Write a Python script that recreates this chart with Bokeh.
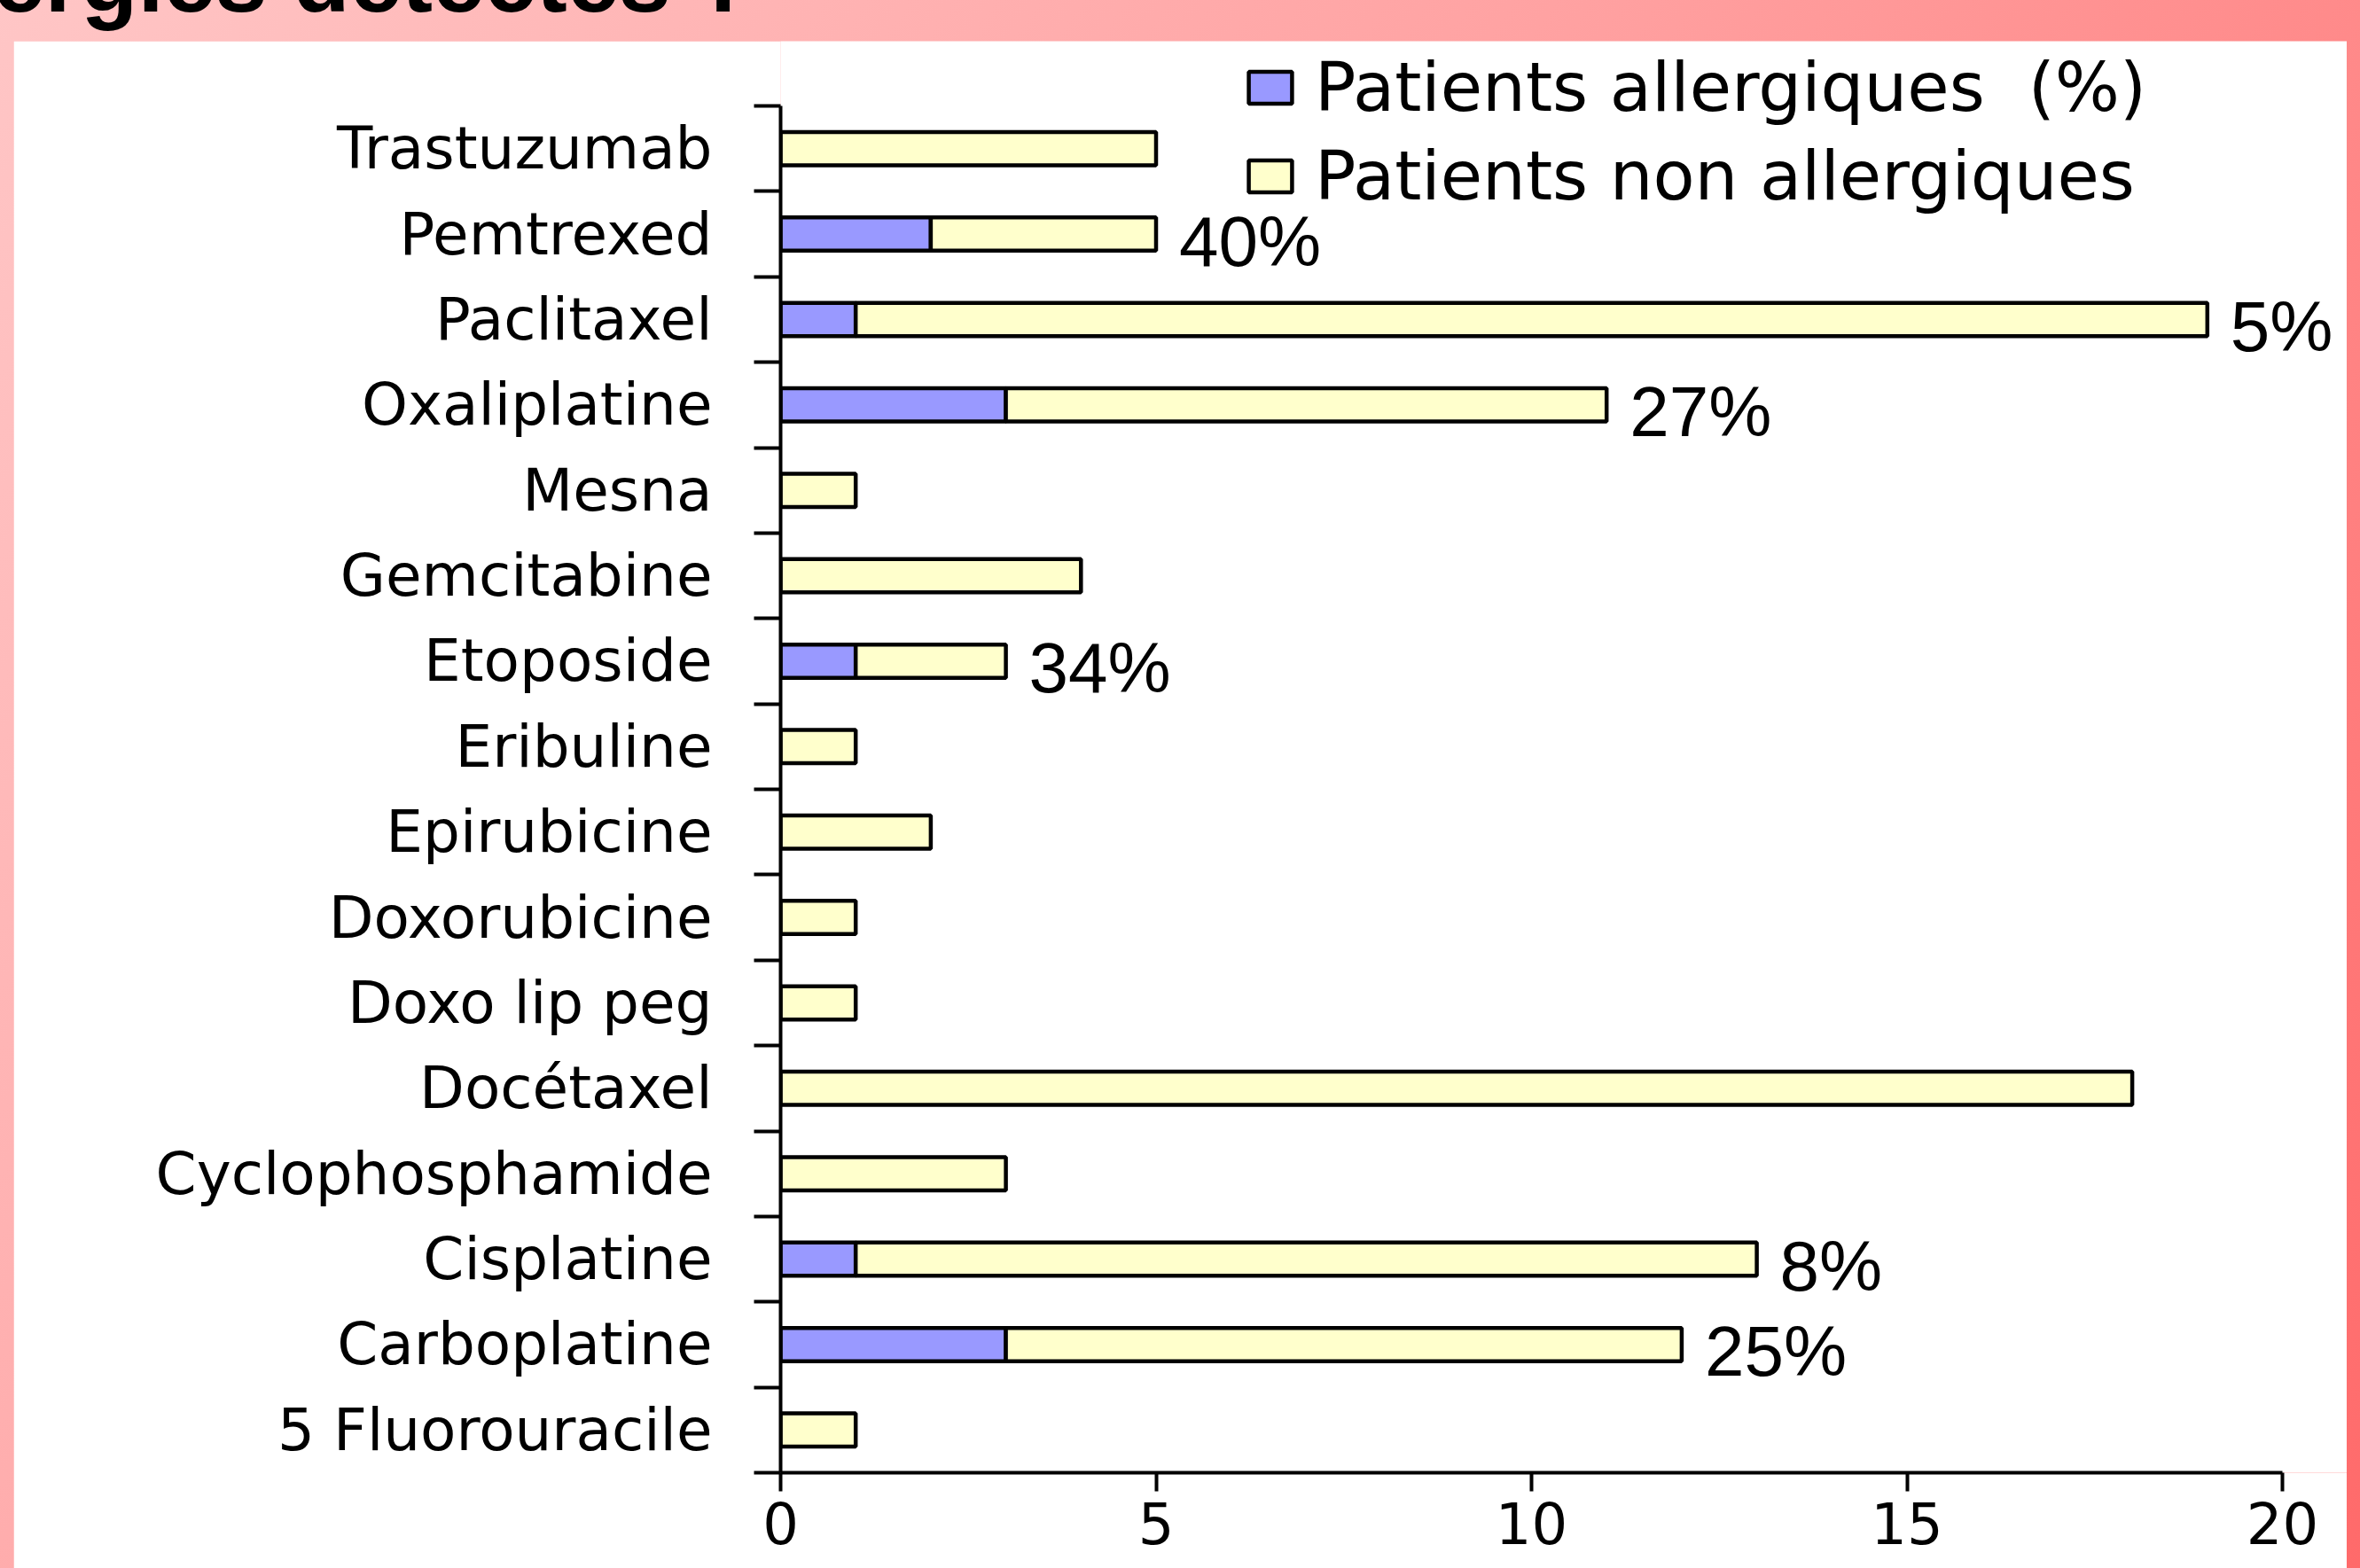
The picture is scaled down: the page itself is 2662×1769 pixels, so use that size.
from bokeh.plotting import figure
from bokeh.models import (Range1d, FixedTicker, Legend, LegendItem, ColumnDataSource,
                          Column, Div, LabelSet)
from bokeh.core.properties import value
from bokeh.embed import file_html
from bokeh.resources import INLINE

# ---- data (top to bottom as shown) ----
drugs = ["Trastuzumab", "Pemtrexed", "Paclitaxel", "Oxaliplatine", "Mesna",
         "Gemcitabine", "Etoposide", "Eribuline", "Epirubicine", "Doxorubicine",
         "Doxo lip peg", "Docétaxel", "Cyclophosphamide", "Cisplatine",
         "Carboplatine", "5 Fluorouracile"]
allergic = [0, 2, 1, 3, 0, 0, 1, 0, 0, 0, 0, 0, 0, 1, 3, 0]
non_allergic = [5, 3, 18, 8, 1, 4, 2, 1, 2, 1, 1, 18, 3, 12, 9, 1]
pct_labels = ["", "40%", "5%", "27%", "", "", "34%", "", "", "", "", "", "",
              "8%", "25%", ""]
x_ticks = [0, 5, 10, 15, 20]
x_max = 20
series_names = ["Patients allergiques  (%)", "Patients non allergiques"]
title_text = "ergies détectés ?"

n = len(drugs)
ypos = [n - i - 0.5 for i in range(n)]
totals = [a + b for a, b in zip(allergic, non_allergic)]

src_a = ColumnDataSource(dict(
    y=[y for y, a in zip(ypos, allergic) if a > 0],
    right=[a for a in allergic if a > 0]))
src_n = ColumnDataSource(dict(y=ypos, left=allergic, right=totals))
src_l = ColumnDataSource(dict(
    y=[y for y, t in zip(ypos, pct_labels) if t],
    x=[x for x, t in zip(totals, pct_labels) if t],
    text=[t for t in pct_labels if t]))

BLUE = "#9999ff"
YELLOW = "#ffffcc"

# ---- layout geometry (pixels) ----
PAGE_W, PAGE_H = 2662, 1769
TITLE_H = 46
SIDE = 15
FIG_W = PAGE_W - 2 * SIDE          # 2632
FIG_H = PAGE_H - TITLE_H           # 1723
BORDER_L = 865                     # axis at page x = 880
BORDER_B = 108                     # axis at page y = 1661
AXIS_W = 1694                      # pixels spanned by 0..x_max
AXIS_H = 1542                      # pixels spanned by the n categories
FRAME_W = FIG_W - BORDER_L
FRAME_H = FIG_H - BORDER_B

# ---- title strip (text partly cut off, as in the reference) ----
title = Div(
    text=('<div style="position:relative; top:-76px; left:-8px; white-space:nowrap; '
          'font-family:\'Liberation Sans\', Arial, sans-serif; font-weight:bold; '
          'font-size:105px; line-height:105px; color:black;">' + title_text + '</div>'),
    width=PAGE_W, height=TITLE_H,
    styles={"overflow": "hidden", "margin": "0", "padding": "0"})

# ---- main chart ----
p = figure(width=FIG_W, height=FIG_H, title=None,
           x_range=Range1d(0, x_max * FRAME_W / AXIS_W),
           y_range=Range1d(0, n * FRAME_H / AXIS_H),
           min_border_left=BORDER_L, min_border_right=0, min_border_top=0,
           min_border_bottom=BORDER_B, output_backend="svg", toolbar_location=None,
           margin=(0, SIDE, 0, SIDE))
p.background_fill_color = "white"
p.border_fill_color = "white"
p.outline_line_color = None
p.xgrid.visible = False
p.ygrid.visible = False

r_a = p.hbar(y="y", left=0, right="right", height=0.39, source=src_a,
             fill_color=BLUE, line_color="black", line_width=4.5)
r_n = p.hbar(y="y", left="left", right="right", height=0.39, source=src_n,
             fill_color=YELLOW, line_color="black", line_width=4.5)

labels = LabelSet(x="x", y="y", text="text", source=src_l, x_offset=26, y_offset=-8,
                  text_font=value("Liberation Sans"), text_font_size=value("80px"),
                  text_baseline="middle", text_align="left", text_color="black")
p.add_layout(labels)

# y axis: labels at category centres, ticks at category boundaries
ya = p.yaxis[0]
ya.bounds = (0, n)
ya.ticker = FixedTicker(ticks=ypos, minor_ticks=list(range(n + 1)))
ya.major_label_overrides = {y: d for y, d in zip(ypos, drugs)}
ya.major_tick_out = 0
ya.major_tick_in = 0
ya.minor_tick_out = 30
ya.minor_tick_in = 0
ya.minor_tick_line_width = 4
ya.minor_tick_line_color = "black"
ya.axis_line_width = 4
ya.axis_line_color = "black"
ya.major_label_standoff = 47
ya.major_label_text_font = "DejaVu Sans"
ya.major_label_text_font_size = "66px"
ya.major_label_text_color = "black"

xa = p.xaxis[0]
xa.bounds = (0, x_max)
xa.ticker = FixedTicker(ticks=x_ticks, minor_ticks=[])
xa.major_tick_out = 21
xa.major_tick_in = 0
xa.major_tick_line_width = 4
xa.major_tick_line_color = "black"
xa.minor_tick_out = 0
xa.minor_tick_in = 0
xa.axis_line_width = 4
xa.axis_line_color = "black"
xa.major_label_standoff = 12
xa.major_label_text_font = "DejaVu Sans"
xa.major_label_text_font_size = "64px"
xa.major_label_text_color = "black"

# legend: rows centred at page y = 100 and 199, glyph at page x ~ 1406
legend = Legend(items=[LegendItem(label=series_names[0], renderers=[r_a]),
                       LegendItem(label=series_names[1], renderers=[r_n])],
                location=(522, 1418), orientation="vertical",
                glyph_width=61, glyph_height=45, label_height=88, spacing=11,
                label_standoff=20, padding=0, margin=0,
                label_text_font="DejaVu Sans", label_text_font_size="77px",
                label_text_color="black", border_line_color=None,
                background_fill_alpha=0)
p.add_layout(legend, "center")

layout = Column(children=[title, p], spacing=0,
                styles={"background": "linear-gradient(125deg, #ffc6c6 0%, #ffa2a2 45%, #ff6a6a 100%)"})

open("out.html", "w").write(file_html(layout, INLINE))
